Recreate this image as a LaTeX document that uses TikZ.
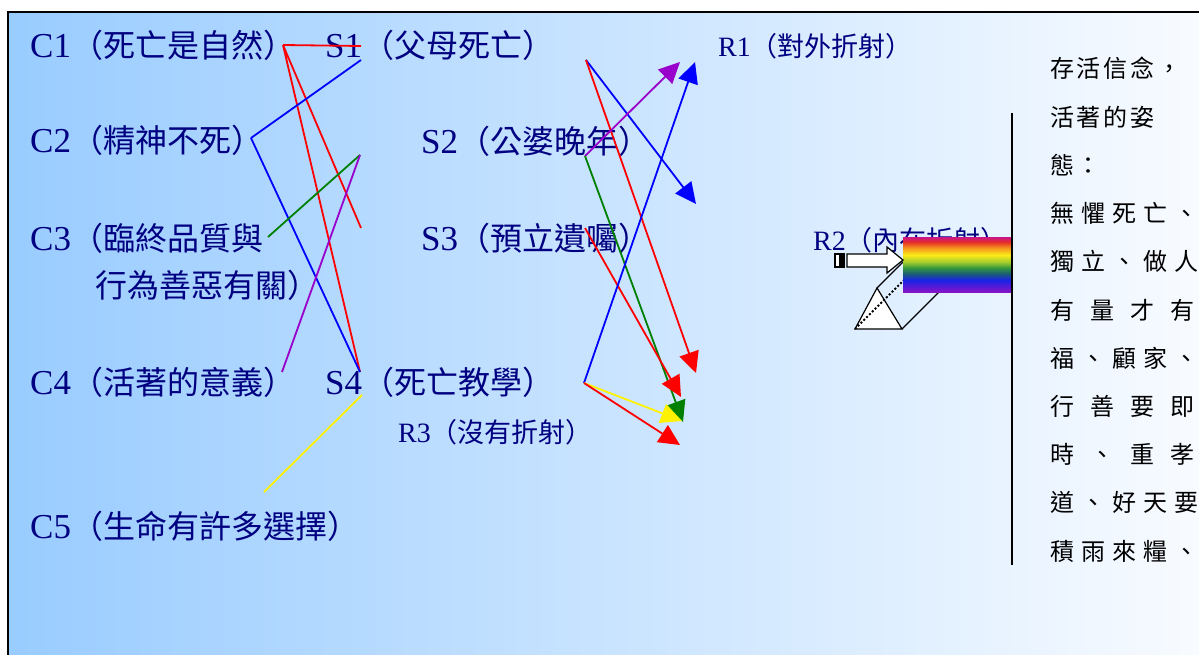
\documentclass[tikz,border=0pt]{standalone}
\usepackage{fontspec}
\setmainfont{Liberation Serif}
\newfontfamily\cjkfont{Noto Sans CJK TC}
\usetikzlibrary{arrows.meta}

\definecolor{navy}{RGB}{0,0,128}
\definecolor{sky}{RGB}{153,204,255}
\definecolor{paper}{RGB}{248,251,255}
\definecolor{lilac}{RGB}{153,0,204}
\definecolor{leaf}{RGB}{0,128,0}
% bands of the spectrum, top to bottom
\definecolor{rbA}{RGB}{200,20,140}
\definecolor{rbB}{RGB}{230,45,40}
\definecolor{rbC}{RGB}{245,150,30}
\definecolor{rbD}{RGB}{250,235,25}
\definecolor{rbE}{RGB}{165,205,45}
\definecolor{rbF}{RGB}{50,150,60}
\definecolor{rbG}{RGB}{25,90,120}
\definecolor{rbH}{RGB}{25,35,230}
\definecolor{rbI}{RGB}{135,20,200}

\newcommand\zh{\cjkfont\fontsize{32}{36}\selectfont}
\newcommand\zhs{\cjkfont\fontsize{27}{30}\selectfont}

\begin{document}
\begin{tikzpicture}[x=1pt, y=-1pt,
	term/.style={anchor=base west, inner sep=0pt, text=navy, font=\fontsize{35}{40}\selectfont},
	rterm/.style={term, font=\fontsize{28}{32}\selectfont},
	belief/.style={anchor=base west, inner sep=0pt, font=\cjkfont\fontsize{24}{28}\selectfont},
	link/.style={line width=1.8pt},
	ray/.style={line width=1.8pt, -{Triangle[length=21pt, width=20pt]}}]
	\clip (0,0) rectangle (1199,655);
	\fill[white] (0,0) rectangle (1199,655);
	\shade[left color=sky, right color=paper] (8,12) rectangle (1199,655);
	\draw[line width=2pt] (1210,12) -- (8,12) -- (8,670);

	\node[term] (C1) at (30,58)  {C1{\zh（死亡是自然）}};
	\node[term] (C2) at (30,153) {C2{\zh（精神不死）}};
	\node[term] (C3) at (30,251) {C3{\zh（臨終品質與}};
	\node[term] (C3b) at (95,297) {\zh 行為善惡有關）};
	\node[term] (C4) at (30,394) {C4{\zh（活著的意義）}};
	\node[term] (C5) at (30,538) {C5{\zh（生命有許多選擇）}};
	\node[term] (S1) at (325,58)  {S1{\zh（父母死亡）}};
	\node[term] (S2) at (421,154) {S2{\zh（公婆晚年）}};
	\node[term] (S3) at (421,251) {S3{\zh（預立遺囑）}};
	\node[term] (S4) at (325,394) {S4{\zh（死亡教學）}};
	\node[rterm] (R1) at (718,57)  {R1{\zhs（對外折射）}};
	\node[rterm] (R2) at (813,250) {R2{\zhs（內在折射）}};
	\node[rterm] (R3) at (398,442) {R3{\zhs（沒有折射）}};

	\coordinate (C1e) at (283,45);
	\coordinate (C2e) at (251,138);
	\coordinate (C3e) at (268,237);
	\coordinate (C4e) at (282,372);
	\coordinate (C5e) at (264,492);
	\coordinate (S1w) at (361,46);
	\coordinate (S1s) at (361,60);
	\coordinate (S2w) at (360,155);
	\coordinate (S3w) at (361,228);
	\coordinate (S4w) at (360,372);
	\coordinate (S4s) at (362,395);
	\coordinate (S1e) at (586,60);
	\coordinate (S2e) at (585,156);
	\coordinate (S3e) at (585,228);
	\coordinate (S4e) at (584,383);
	\coordinate (R1a) at (680,62);
	\coordinate (R1b) at (695,62);
	\coordinate (R2a) at (696,204);
	\coordinate (R2b) at (696,373);
	\coordinate (R3a) at (681,397);
	\coordinate (R3b) at (682,421);
	\coordinate (R3c) at (683,422);
	\coordinate (R3d) at (680,445);

	\draw[link, red] (C1e) -- (S1w) (C1e) -- (S3w) (C1e) -- (S4w);
	\draw[link, blue] (C2e) -- (S1s) (C2e) -- (S4w);
	\draw[link, leaf] (C3e) -- (S2w);
	\draw[link, lilac] (C4e) -- (S2w);
	\draw[link, yellow] (S4s) -- (C5e);

	\draw[ray, blue] (S1e) -- (R2a);
	\draw[ray, red] (S1e) -- (R2b);
	\draw[ray, lilac] (S2e) -- (R1a);
	\draw[ray, leaf] (S2e) -- (R3c);
	\draw[ray, red] (S3e) -- (R3a);
	\draw[ray, blue] (S4e) -- (R1b);
	\draw[ray, yellow] (S4e) -- (R3b);
	\draw[ray, red] (S4e) -- (R3d);

	% prism, its back half hidden by the spectrum
	\coordinate (PA) at (877,288);
	\coordinate (PL) at (855,329);
	\coordinate (PR) at (902,329);
	\draw[line width=1.2pt] (PA) -- ++(50,-50) (PR) -- ++(50,-50);
	\draw[line width=1.2pt, fill=white] (PA) -- (PL) -- (PR) -- cycle;
	\draw[line width=2pt, dash pattern=on 2pt off 2pt] (PL) -- ++(50,-50);

	\foreach \ya/\yb/\ca/\cb in {237/242/rbA/rbB, 242/248/rbB/rbC, 248/255/rbC/rbD,
		255/262/rbD/rbE, 262/268/rbE/rbF, 268/274/rbF/rbG, 274/280/rbG/rbH, 280/292/rbH/rbI}
		\shade[top color=\ca, bottom color=\cb] (903,\ya) rectangle (1012,\yb);

	% light beam going in
	\draw[line width=1.2pt, fill=white] (835,254) rectangle (840,267);
	\fill (841,253) rectangle (845,268);
	\draw[line width=1.2pt, fill=white] (847,254) -- (887,254) -- (887,247) -- (903,260)
		-- (887,273) -- (887,267) -- (847,267) -- cycle;

	\draw[line width=2pt] (1012,113) -- (1012,565);
	\foreach \txt/\gap [count=\k] in {存 活 信 念 ，/2.7, 活 著 的 姿/2.7, 態 ：/2.7,
		無 懼 死 亡 、/7, 獨 立 、 做 人/7, 有 量 才 有/16, 福 、 顧 家 、/7,
		行 善 要 即/16, 時 、 重 孝/16, 道 、 好 天 要/7, 積 雨 來 糧 、/7}
		\node[belief] (B\k) at (1050,{29.8+48.2*\k}) {\spaceskip=\gap pt\relax\txt};
\end{tikzpicture}
\end{document}
